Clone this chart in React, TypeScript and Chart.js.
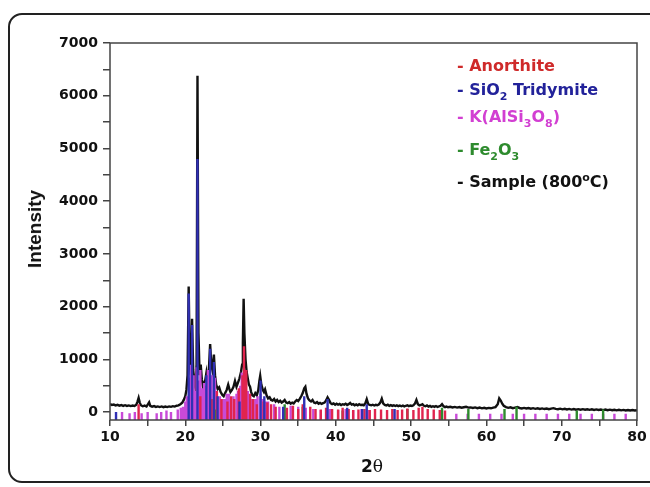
import React, { useEffect, useRef } from "react";
import { Chart, registerables } from "chart.js";

Chart.register(...registerables);

// Axis ranges and tick values
const xMin = 10;
const xMax = 80;
const yMin = -150;
const yMax = 7000;
const xTickValues = [10, 15, 20, 25, 30, 35, 40, 45, 50, 55, 60, 65, 70, 75, 80];
const xTickLabels = ["10", "", "20", "", "30", "", "40", "", "50", "", "60", "", "70", "", "80"];
const yTickValues = [0, 500, 1000, 1500, 2000, 2500, 3000, 3500, 4000, 4500, 5000, 5500, 6000, 6500, 7000];
const yTickLabels = ["0", "", "1000", "", "2000", "", "3000", "", "4000", "", "5000", "", "6000", "", "7000"];

// Sample (800°C) measured pattern: [2θ, intensity]
const samplePattern: [number, number][] = [
  [10.0, 150], [10.25, 135], [10.5, 142], [10.75, 126], [11.0, 138], [11.25, 122], [11.5, 134], [11.75, 118],
  [12.0, 130], [12.25, 116], [12.5, 127], [12.75, 114], [13.0, 124], [13.25, 116], [13.5, 140], [13.65, 200],
  [13.8, 270], [13.95, 180], [14.1, 130], [14.35, 110], [14.6, 122], [14.85, 106], [15.05, 150], [15.2, 185],
  [15.35, 120], [15.6, 104], [15.85, 114], [16.1, 98], [16.35, 108], [16.6, 96], [16.85, 107], [17.1, 94],
  [17.35, 105], [17.6, 95], [17.85, 108], [18.1, 99], [18.35, 112], [18.6, 104], [18.85, 120], [19.1, 128],
  [19.35, 150], [19.6, 180], [19.8, 230], [20.0, 300], [20.15, 420], [20.3, 700], [20.45, 2380], [20.6, 900],
  [20.75, 700], [20.9, 1770], [21.05, 800], [21.2, 560], [21.35, 450], [21.5, 900], [21.62, 6380], [21.75, 1500],
  [21.9, 700], [22.05, 900], [22.2, 620], [22.35, 480], [22.5, 560], [22.65, 600], [22.8, 740], [22.95, 560],
  [23.1, 700], [23.3, 1290], [23.45, 900], [23.6, 800], [23.8, 1090], [23.95, 700], [24.1, 520], [24.3, 440],
  [24.5, 470], [24.7, 380], [24.9, 330], [25.1, 300], [25.3, 360], [25.5, 420], [25.7, 520], [25.85, 440],
  [26.0, 380], [26.2, 420], [26.4, 480], [26.6, 590], [26.8, 480], [27.0, 560], [27.2, 640], [27.4, 760],
  [27.55, 900], [27.65, 1300], [27.75, 2150], [27.85, 1500], [28.0, 1000], [28.15, 760], [28.3, 640], [28.45, 520],
  [28.6, 480], [28.75, 380], [28.9, 320], [29.1, 300], [29.3, 360], [29.5, 320], [29.7, 420], [29.85, 600],
  [29.95, 685], [30.1, 520], [30.3, 420], [30.45, 380], [30.6, 430], [30.8, 320], [31.0, 260], [31.2, 280],
  [31.4, 230], [31.6, 220], [31.8, 250], [32.0, 200], [32.2, 230], [32.4, 190], [32.6, 215], [32.8, 180],
  [33.0, 200], [33.2, 230], [33.4, 180], [33.6, 170], [33.8, 190], [34.0, 160], [34.2, 180], [34.4, 165],
  [34.6, 200], [34.8, 230], [35.0, 210], [35.2, 250], [35.4, 300], [35.6, 360], [35.8, 450], [35.95, 480],
  [36.1, 350], [36.3, 260], [36.5, 220], [36.7, 200], [36.9, 230], [37.1, 180], [37.3, 170], [37.5, 190],
  [37.7, 160], [37.9, 175], [38.1, 155], [38.3, 170], [38.5, 180], [38.7, 220], [38.9, 280], [39.1, 230],
  [39.3, 170], [39.5, 150], [39.7, 165], [39.9, 140], [40.1, 160], [40.3, 140], [40.5, 155], [40.7, 135],
  [40.9, 150], [41.1, 140], [41.3, 160], [41.5, 135], [41.7, 150], [41.9, 175], [42.1, 140], [42.3, 150],
  [42.5, 130], [42.7, 145], [42.9, 128], [43.1, 150], [43.3, 135], [43.5, 140], [43.7, 130], [43.9, 160],
  [44.1, 245], [44.3, 150], [44.5, 135], [44.7, 128], [44.9, 140], [45.1, 125], [45.3, 138], [45.5, 130],
  [45.7, 145], [45.9, 180], [46.1, 255], [46.3, 160], [46.5, 135], [46.7, 125], [46.9, 140], [47.1, 120],
  [47.3, 132], [47.5, 118], [47.7, 130], [47.9, 115], [48.1, 128], [48.3, 112], [48.5, 125], [48.7, 110],
  [48.9, 122], [49.1, 108], [49.3, 120], [49.5, 130], [49.7, 112], [49.9, 125], [50.1, 118], [50.3, 130],
  [50.5, 160], [50.7, 230], [50.9, 150], [51.1, 125], [51.3, 135], [51.5, 150], [51.7, 120], [51.9, 110],
  [52.1, 125], [52.3, 105], [52.5, 118], [52.7, 100], [52.9, 112], [53.1, 100], [53.3, 115], [53.5, 98],
  [53.7, 108], [53.9, 120], [54.1, 150], [54.3, 110], [54.5, 95], [54.7, 105], [54.9, 92], [55.2, 100],
  [55.5, 88], [55.8, 98], [56.1, 85], [56.4, 95], [56.7, 82], [57.0, 92], [57.3, 100], [57.6, 85],
  [57.9, 90], [58.2, 78], [58.5, 88], [58.8, 75], [59.1, 85], [59.4, 72], [59.7, 82], [60.0, 70],
  [60.3, 80], [60.6, 72], [60.9, 85], [61.2, 95], [61.5, 150], [61.7, 260], [61.9, 220], [62.1, 160],
  [62.3, 120], [62.6, 95], [62.9, 80], [63.2, 90], [63.5, 75], [63.8, 85], [64.1, 95], [64.4, 78],
  [64.7, 70], [65.0, 80], [65.3, 68], [65.6, 78], [65.9, 65], [66.2, 75], [66.5, 62], [66.8, 72],
  [67.1, 60], [67.4, 70], [67.7, 58], [68.0, 68], [68.3, 56], [68.6, 66], [68.9, 75], [69.2, 60],
  [69.5, 55], [69.8, 65], [70.1, 52], [70.4, 62], [70.7, 50], [71.0, 60], [71.3, 48], [71.6, 58],
  [71.9, 46], [72.2, 56], [72.5, 45], [72.8, 55], [73.1, 44], [73.4, 54], [73.7, 42], [74.0, 52],
  [74.3, 40], [74.6, 50], [74.9, 40], [75.2, 48], [75.5, 38], [75.8, 48], [76.1, 36], [76.4, 46],
  [76.7, 35], [77.0, 45], [77.3, 34], [77.6, 44], [77.9, 33], [78.2, 42], [78.5, 32], [78.8, 40],
  [79.1, 30], [79.4, 38], [79.7, 30], [80.0, 36],
];

// Reference stick patterns: [2θ, relative height]
const anorthiteSticks: [number, number][] = [
  [13.8, 150], [22.0, 300], [23.5, 250], [24.2, 400], [24.8, 250], [25.6, 200], [26.1, 300], [26.5, 250],
  [27.1, 450], [27.6, 700], [27.8, 1250], [28.1, 800], [28.6, 350], [29.0, 250], [29.5, 150], [30.4, 200],
  [30.9, 180], [31.4, 150], [32.0, 100], [33.5, 80], [34.3, 120], [35.0, 60], [35.6, 150], [36.6, 100],
  [37.3, 60], [38.0, 50], [38.7, 80], [39.5, 60], [40.3, 50], [40.9, 80], [41.7, 60], [42.3, 40],
  [43.0, 50], [43.8, 60], [44.5, 40], [45.2, 60], [46.0, 50], [46.8, 40], [47.5, 60], [48.2, 40],
  [48.8, 50], [49.5, 70], [50.3, 40], [51.0, 80], [51.5, 100], [52.2, 60], [53.0, 50], [53.8, 40],
  [54.5, 30],
];

const tridymiteSticks: [number, number][] = [
  [10.8, 0], [20.45, 2250], [20.9, 1650], [21.62, 4800], [22.8, 700], [23.3, 1200], [23.8, 950], [24.3, 300],
  [27.2, 200], [30.0, 600], [30.5, 300], [33.0, 100], [35.8, 300], [38.9, 250], [41.5, 80], [43.5, 60],
  [44.1, 150], [47.8, 60],
];

const feldsparSticks: [number, number][] = [
  [11.6, 0], [12.6, -20], [13.3, 0], [14.2, -20], [15.0, 0], [16.2, -20], [16.8, 0], [17.5, 30],
  [18.1, 0], [19.0, 50], [19.4, 80], [19.7, 100], [20.0, 200], [20.2, 300], [20.6, 650], [20.75, 900],
  [21.1, 700], [21.3, 400], [21.5, 850], [21.85, 600], [22.0, 800], [22.3, 450], [22.5, 550], [22.7, 500],
  [23.0, 800], [23.5, 700], [23.95, 650], [24.0, 400], [24.6, 300], [25.0, 250], [25.2, 250], [25.5, 350],
  [25.8, 350], [26.0, 250], [26.4, 300], [26.8, 350], [27.0, 400], [27.3, 500], [27.5, 750], [27.95, 600],
  [28.3, 400], [28.6, 300], [28.9, 250], [29.3, 250], [29.6, 300], [30.0, 350], [30.3, 250], [30.7, 200],
  [31.0, 200], [31.8, 150], [32.5, 100], [33.2, 50], [34.0, 120], [35.0, 100], [36.0, 80], [37.0, 60],
  [38.0, 40], [39.2, 60], [40.3, 40], [41.3, 60], [42.3, 40], [43.4, 60], [44.4, 40], [56.0, -30],
  [57.5, -30], [59.0, -30], [60.5, -30], [62.0, -30], [63.5, -30], [65.0, -30], [66.5, -30], [68.0, -30],
  [69.5, -30], [71.0, -30], [72.5, -30], [74.0, -30], [75.5, -30], [77.0, -30], [78.5, -30],
];

const hematiteSticks: [number, number][] = [
  [24.1, 50], [33.2, 150], [35.6, 100], [40.9, 30], [49.5, 60], [54.1, 80], [57.6, 60], [62.4, 60],
  [64.0, 100], [72.0, 30], [75.5, 50],
];

function sticksToLine(sticks: [number, number][]) {
  const pts: { x: number; y: number | null }[] = [];
  for (const [x, h] of sticks) {
    pts.push({ x, y: yMin });
    pts.push({ x, y: h });
    pts.push({ x, y: null });
  }
  return pts;
}

const framePlugin = {
  id: "frame",
  afterDraw(chart: any) {
    const { ctx, chartArea } = chart;
    ctx.save();
    ctx.strokeStyle = "#444";
    ctx.lineWidth = 1.5;
    ctx.strokeRect(chartArea.left, chartArea.top, chartArea.right - chartArea.left, chartArea.bottom - chartArea.top);
    ctx.restore();
  },
};

export default function App() {
  const ref = useRef<HTMLCanvasElement | null>(null);

  useEffect(() => {
    if (!ref.current) return;
    const stick = (data: any, color: string, order: number) => ({
      type: "line" as const,
      data,
      borderColor: color,
      borderWidth: 2.4,
      pointRadius: 0,
      spanGaps: false,
      tension: 0,
      order,
    });
    const chart = new Chart(ref.current, {
      type: "line",
      data: {
        datasets: [
          {
            data: samplePattern.map(([x, y]) => ({ x, y })),
            borderColor: "#111",
            borderWidth: 2.4,
            pointRadius: 0,
            tension: 0,
            order: 10,
          },
          stick(sticksToLine(tridymiteSticks), "#3030b4", 0),
          stick(sticksToLine(anorthiteSticks), "#e0244e", 1),
          stick(sticksToLine(hematiteSticks), "#2e8b2e", 2),
          stick(sticksToLine(feldsparSticks), "#c84ad8", 3),
        ] as any,
      },
      options: {
        animation: false,
        responsive: false,
        layout: { padding: { top: 43, right: 13, left: 0, bottom: 0 } },
        plugins: { legend: { display: false }, tooltip: { enabled: false } },
        scales: {
          x: {
            type: "linear",
            min: xMin,
            max: xMax,
            afterFit: (s: any) => { s.height = 67; },
            afterBuildTicks: (s: any) => { s.ticks = xTickValues.map((v) => ({ value: v })); },
            ticks: {
              padding: 3,
              color: "#111",
              maxRotation: 0,
              autoSkip: false,
              font: { family: "DejaVu Sans", weight: "bold", size: 14 },
              callback: (_v: any, i: number) => xTickLabels[i],
            },
            grid: { drawOnChartArea: false, drawTicks: true, tickLength: 6, color: "#444", lineWidth: 1.5 },
            border: { display: false },
          },
          y: {
            type: "linear",
            min: yMin,
            max: yMax,
            afterFit: (s: any) => { s.width = 110; },
            afterBuildTicks: (s: any) => { s.ticks = yTickValues.map((v) => ({ value: v })); },
            ticks: {
              padding: 5,
              color: "#111",
              autoSkip: false,
              font: { family: "DejaVu Sans", weight: "bold", size: 14 },
              callback: (_v: any, i: number) => yTickLabels[i],
            },
            grid: { drawOnChartArea: false, drawTicks: true, tickLength: 7, color: "#444", lineWidth: 1.5 },
            border: { display: false },
          },
        },
      },
      plugins: [framePlugin],
    });
    return () => chart.destroy();
  }, []);

  const legendFont: React.CSSProperties = {
    position: "absolute",
    left: 457,
    fontFamily: "'DejaVu Sans', sans-serif",
    fontWeight: "bold",
    fontSize: 16,
    lineHeight: "18px",
    whiteSpace: "nowrap",
  };
  const sub: React.CSSProperties = { fontSize: 11, verticalAlign: -5, lineHeight: 0 };
  const sup: React.CSSProperties = { fontSize: 11, verticalAlign: 6, lineHeight: 0 };

  return (
    <div style={{ position: "fixed", left: 0, top: 0, width: 650, height: 487, overflow: "hidden", background: "#fff" }}>
      <div
        style={{
          position: "absolute",
          left: 8,
          top: 13,
          width: 700,
          height: 466,
          border: "2px solid #222",
          borderRadius: 14,
        }}
      />
      <canvas ref={ref} width={650} height={487} style={{ position: "absolute", left: 0, top: 0, width: 650, height: 487 }} />
      <div style={{ ...legendFont, top: 57, color: "#cf2a2a" }}>- Anorthite</div>
      <div style={{ ...legendFont, top: 81, color: "#22229a" }}>
        - SiO<sub style={sub}>2</sub> Tridymite
      </div>
      <div style={{ ...legendFont, top: 108, color: "#d23fd2" }}>
        - K(AlSi<sub style={sub}>3</sub>O<sub style={sub}>8</sub>)
      </div>
      <div style={{ ...legendFont, top: 141, color: "#2e8b2e" }}>
        - Fe<sub style={sub}>2</sub>O<sub style={sub}>3</sub>
      </div>
      <div style={{ ...legendFont, top: 173, color: "#111" }}>
        - Sample (800<sup style={sup}>o</sup>C)
      </div>
      <div
        style={{
          position: "absolute",
          left: 35,
          top: 229,
          transform: "translate(-50%, -50%) rotate(-90deg)",
          fontFamily: "'Liberation Sans', Arial, sans-serif",
          fontWeight: "bold",
          fontSize: 19,
          color: "#111",
          whiteSpace: "nowrap",
        }}
      >
        Intensity
      </div>
      <div
        style={{
          position: "absolute",
          left: 372,
          top: 466,
          transform: "translate(-50%, -50%)",
          color: "#111",
          whiteSpace: "nowrap",
        }}
      >
        <span style={{ fontFamily: "'DejaVu Sans', sans-serif", fontWeight: "bold", fontSize: 17 }}>2</span>
        <span style={{ fontFamily: "'DejaVu Serif', serif", fontSize: 17 }}>θ</span>
      </div>
    </div>
  );
}
